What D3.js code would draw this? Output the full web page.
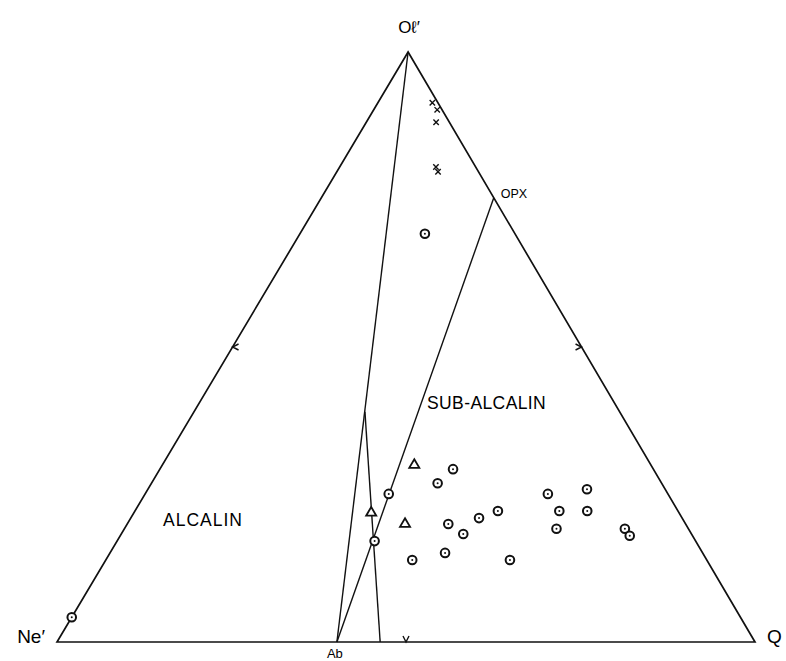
<!DOCTYPE html>
<html>
<head>
<meta charset="utf-8">
<title>Ne' - Ol' - Q</title>
<script src="https://d3js.org/d3.v7.min.js"></script>
<style>
  body { margin: 0; background: #fff; }
  svg text { font-family: "Liberation Sans", Arial, sans-serif; fill: #000; }
  .edge { fill: none; stroke: #111; stroke-width: 1.7px; }
  .guide { fill: none; stroke: #111; stroke-width: 1.4px; }
</style>
</head>
<body>
<div id="chart"></div>
<script>
// ternary values in percent: [Ne', Ol', Q]
var circles = [
  [12.9, 69.2, 17.9], [95.8, 4.2, 0.0], [28.7, 29.3, 42.0], [32.0, 26.9, 41.0],
  [40.0, 25.1, 34.9], [17.2, 25.1, 57.7], [34.0, 20.0, 46.0], [29.1, 21.0, 49.9],
  [25.8, 22.2, 52.0], [32.7, 18.3, 49.0], [45.9, 17.1, 36.9], [42.2, 13.9, 43.9],
  [36.9, 15.1, 48.0], [28.2, 13.9, 57.9], [11.2, 25.9, 62.9], [17.0, 22.2, 60.8],
  [13.0, 22.2, 64.8], [19.0, 19.2, 61.9], [9.1, 19.2, 71.7], [9.0, 18.0, 73.0]
];
var triangles = [[33.9, 30.0, 36.1], [44.1, 21.9, 34.0], [40.2, 20.0, 39.8]];
var crosses = [[0.9, 91.4, 7.8], [0.7, 90.2, 9.1], [1.9, 88.1, 10.0], [5.7, 80.5, 13.8], [5.8, 79.7, 14.5]];

// reference points
var Ab = [59.9, 0, 40.1];
var OPX = [0, 75.3, 24.7];
var OL = [0, 100, 0];
var peak = [36.5, 39.0, 24.5];
var footR = [53.7, 0, 46.3];

var guideLines = [[Ab, OL], [Ab, OPX], [peak, footR]];
var edgeTicks = [[50, 50, 0], [0, 50, 50], [50, 0, 50]];

var w = 786, h = 661;
var svg = d3.select("#chart").append("svg").attr("width", w).attr("height", h);

// apex sits at 50.3% of the base
var apexShift = 0.503;
var x = d3.scaleLinear().domain([0, 100]).range([57, 755]);
var y = d3.scaleLinear().domain([0, 100]).range([642, 52]);
function px(d) { return [x(d[2] + d[1] * apexShift), y(d[1])]; }

var NeP = px([100, 0, 0]), OlP = px(OL), QP = px([0, 0, 100]);

svg.append("path").attr("class", "edge")
  .attr("d", d3.line()([NeP, OlP, QP]) + "Z");

svg.selectAll(".guide").data(guideLines).enter().append("path")
  .attr("class", "guide")
  .attr("d", function(d) { return d3.line()(d.map(px)); });

// small inward chevrons at the middle of each side
var edgeDirs = [[1, 0], [-1, 0], [0, -1]];
edgeTicks.forEach(function(t, i) {
  var p = px(t), d = edgeDirs[i], n = [-d[1], d[0]], a = 6;
  var p1 = [p[0] + d[0] * a + n[0] * 3, p[1] + d[1] * a + n[1] * 3];
  var p2 = [p[0] + d[0] * a - n[0] * 3, p[1] + d[1] * a - n[1] * 3];
  svg.append("path").attr("class", "guide").attr("stroke-width", 1.3)
    .attr("d", d3.line()([p1, p, p2]));
});

// markers
svg.selectAll(".pt").data(circles).enter().append("circle")
  .attr("cx", function(d) { return px(d)[0]; })
  .attr("cy", function(d) { return px(d)[1]; })
  .attr("r", 4.3).attr("fill", "#fff").attr("stroke", "#111").attr("stroke-width", 2);
svg.selectAll(".dot").data(circles).enter().append("circle")
  .attr("cx", function(d) { return px(d)[0]; })
  .attr("cy", function(d) { return px(d)[1]; })
  .attr("r", 1).attr("fill", "#111");

svg.selectAll(".tri").data(triangles).enter().append("path")
  .attr("transform", function(d) { var p = px(d); return "translate(" + p[0] + "," + p[1] + ")"; })
  .attr("d", d3.symbol().type(d3.symbolTriangle).size(44))
  .attr("fill", "#fff").attr("stroke", "#111").attr("stroke-width", 1.8);

svg.selectAll(".cross").data(crosses).enter().append("path")
  .attr("transform", function(d) { var p = px(d); return "translate(" + p[0] + "," + p[1] + ")"; })
  .attr("d", "M-2.7,-2.7L2.7,2.7M2.7,-2.7L-2.7,2.7")
  .attr("stroke", "#111").attr("stroke-width", 1.4);

// labels
svg.append("text").attr("x", OlP[0] + 1).attr("y", 33).attr("text-anchor", "middle")
  .attr("font-size", 17).text("Oℓ′");
svg.append("text").attr("x", NeP[0] - 12).attr("y", NeP[1] + 1).attr("text-anchor", "end")
  .attr("font-size", 19).text("Ne′");
svg.append("text").attr("x", QP[0] + 12).attr("y", QP[1] + 1)
  .attr("font-size", 19).text("Q");
svg.append("text").attr("x", px(Ab)[0] - 2).attr("y", 658).attr("text-anchor", "middle")
  .attr("font-size", 13).text("Ab");
svg.append("text").attr("x", px(OPX)[0] + 7).attr("y", px(OPX)[1])
  .attr("font-size", 12.5).text("OPX");
svg.append("text").attr("x", 427).attr("y", 409)
  .attr("font-size", 17.5).attr("letter-spacing", 0.4).text("SUB-ALCALIN");
svg.append("text").attr("x", 163).attr("y", 526)
  .attr("font-size", 17.5).attr("letter-spacing", 1).text("ALCALIN");
</script>
</body>
</html>
